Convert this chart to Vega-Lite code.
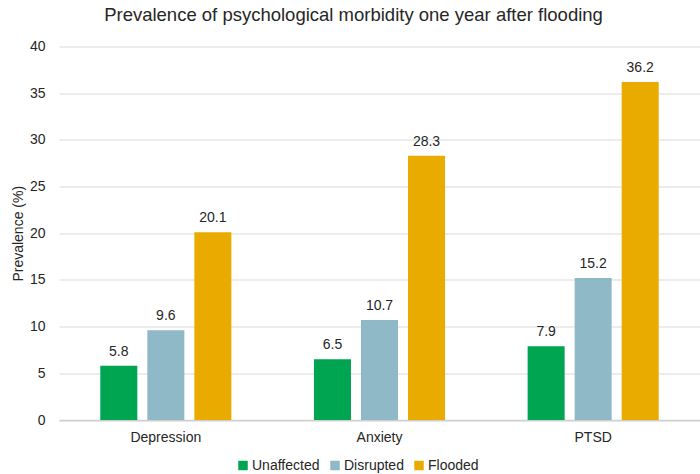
{
  "$schema": "https://vega.github.io/schema/vega-lite/v6.json",
  "autosize": "none",
  "width": 641,
  "height": 373.5,
  "padding": {"left": 59, "top": 46.5, "right": 0, "bottom": 54},
  "background": "white",
  "title": {
    "text": "Prevalence of psychological morbidity one year after flooding",
    "font": "Liberation Sans",
    "fontSize": 18.5,
    "fontWeight": "normal",
    "color": "#262626",
    "anchor": "middle",
    "dx": -26,
    "offset": 15
  },
  "config": {
    "view": {"stroke": null},
    "font": "Liberation Sans"
  },
  "data": {
    "values": [
      {"condition": "Depression", "group": "Unaffected", "value": 5.8},
      {"condition": "Depression", "group": "Disrupted", "value": 9.6},
      {"condition": "Depression", "group": "Flooded", "value": 20.1},
      {"condition": "Anxiety", "group": "Unaffected", "value": 6.5},
      {"condition": "Anxiety", "group": "Disrupted", "value": 10.7},
      {"condition": "Anxiety", "group": "Flooded", "value": 28.3},
      {"condition": "PTSD", "group": "Unaffected", "value": 7.9},
      {"condition": "PTSD", "group": "Disrupted", "value": 15.2},
      {"condition": "PTSD", "group": "Flooded", "value": 36.2}
    ]
  },
  "encoding": {
    "x": {
      "field": "condition",
      "type": "nominal",
      "sort": ["Depression", "Anxiety", "PTSD"],
      "scale": {"paddingInner": 0, "paddingOuter": 0},
      "axis": {
        "title": null,
        "labelAngle": 0,
        "labelFontSize": 14,
        "labelColor": "#262626",
        "labelPadding": 10,
        "ticks": false,
        "domainColor": "#d0d0d0",
        "domainWidth": 1.5
      }
    },
    "xOffset": {
      "field": "group",
      "type": "nominal",
      "sort": ["Unaffected", "Disrupted", "Flooded"],
      "scale": {"paddingInner": 0.213, "paddingOuter": 0.878}
    },
    "y": {
      "field": "value",
      "type": "quantitative",
      "scale": {"domain": [0, 40], "nice": false},
      "axis": {
        "title": "Prevalence (%)",
        "titleFontSize": 14,
        "titleFontWeight": "normal",
        "titleColor": "#262626",
        "titlePadding": 4,
        "values": [0, 5, 10, 15, 20, 25, 30, 35, 40],
        "labelOverlap": false,
        "labelFontSize": 14,
        "labelColor": "#262626",
        "labelPadding": 14,
        "ticks": false,
        "domain": false,
        "gridColor": "#d9d9d9",
        "gridWidth": 1
      }
    }
  },
  "layer": [
    {
      "mark": {"type": "bar"},
      "encoding": {
        "color": {
          "field": "group",
          "type": "nominal",
          "sort": ["Unaffected", "Disrupted", "Flooded"],
          "scale": {
            "domain": ["Unaffected", "Disrupted", "Flooded"],
            "range": ["#00A552", "#8FB9C6", "#E9AB00"]
          },
          "legend": {
            "title": null,
            "orient": "none",
            "direction": "horizontal",
            "legendX": 177,
            "legendY": 412,
            "symbolType": "square",
            "symbolSize": 90,
            "symbolStrokeWidth": 0,
            "labelFontSize": 14,
            "labelColor": "#262626",
            "labelOffset": 2,
            "columnPadding": 8
          }
        }
      }
    },
    {
      "mark": {"type": "text", "baseline": "bottom", "dy": -7, "fontSize": 14, "color": "#262626"},
      "encoding": {
        "text": {"field": "value", "type": "quantitative", "format": ".1f"}
      }
    }
  ]
}
